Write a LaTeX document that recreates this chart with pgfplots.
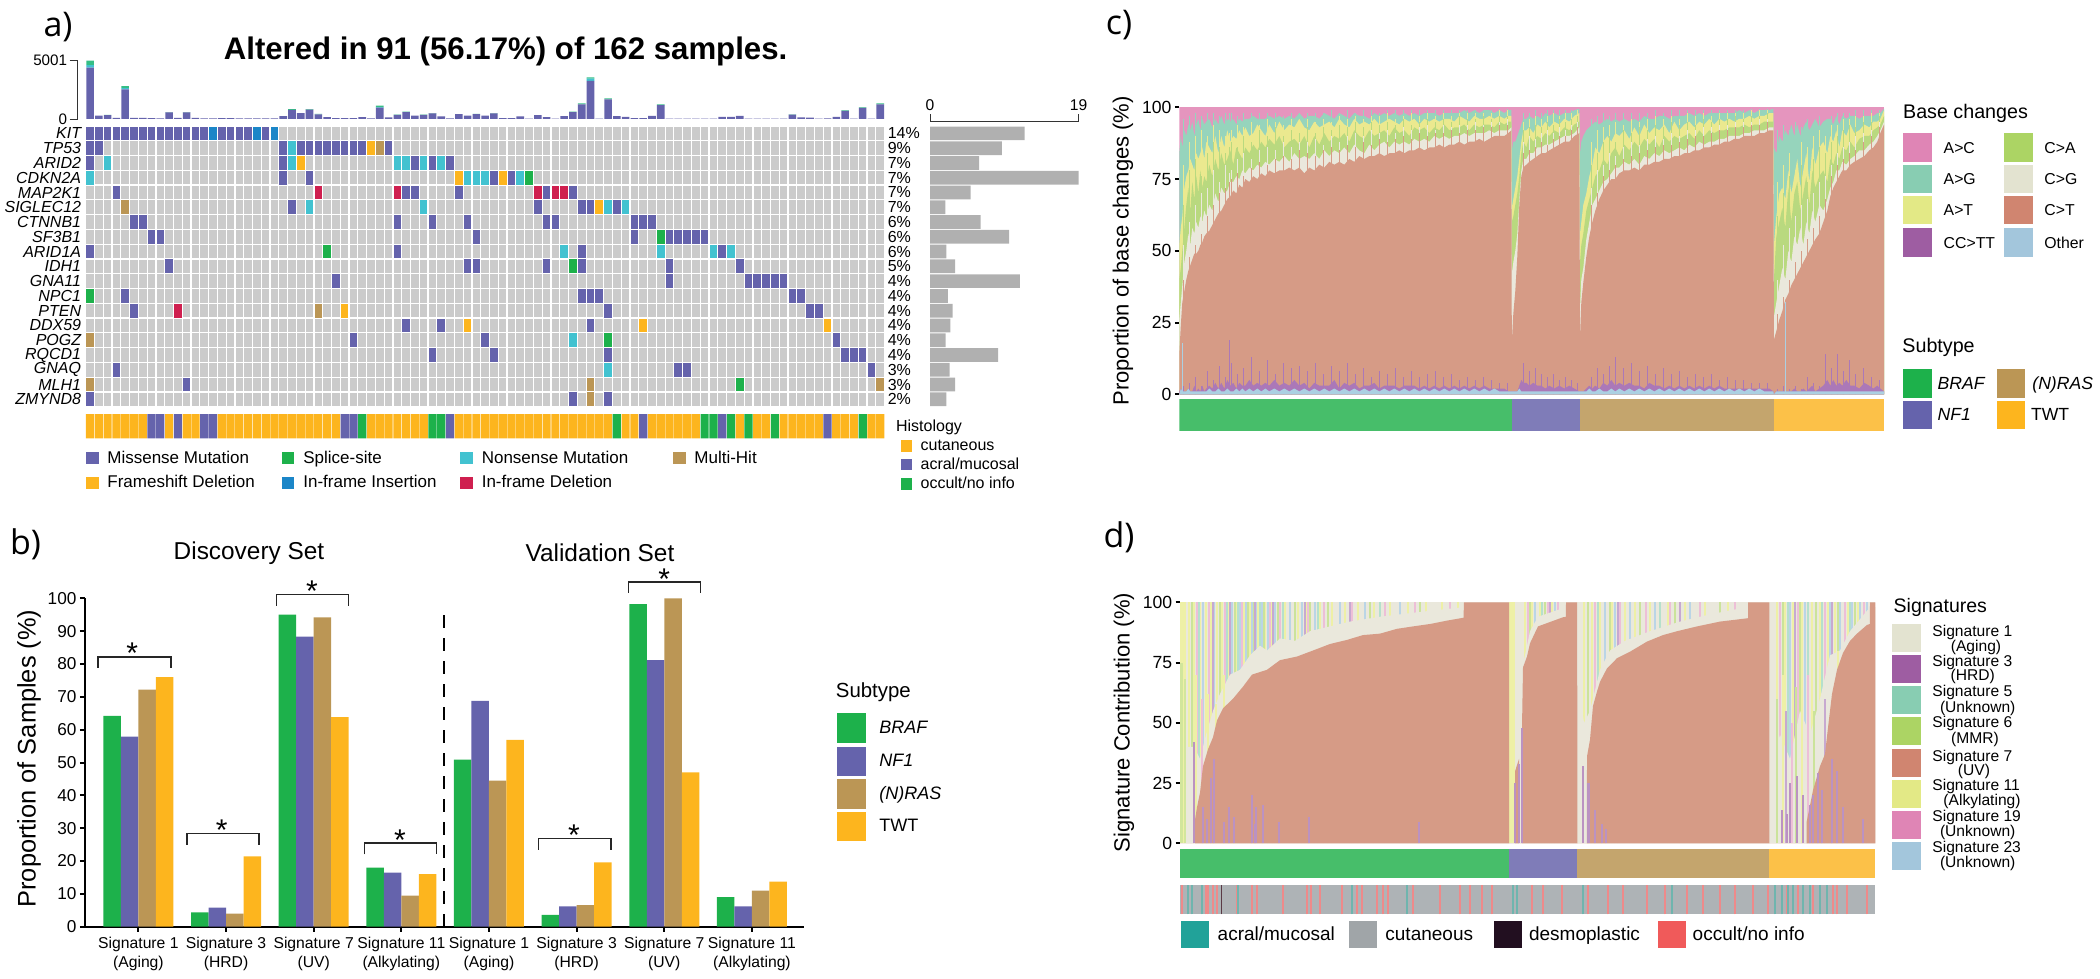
\documentclass[border=0pt]{standalone}
\usepackage{fontspec}
\setmainfont{Liberation Sans}
\newfontfamily\panelfont{Open Sans}
\usepackage{pgfplots}
\usepackage{pgfplotstable}
\pgfplotsset{compat=1.18}
\newcommand\fs[1]{\fontsize{#1}{#1}\selectfont}
\pgfplotsset{pos/.style 2 args={at={(#1*0.5pt,-#2*0.5pt)},anchor=south west,scale only axis}}

\definecolor{mis}{HTML}{6563AC}
\definecolor{spl}{HTML}{1DB14B}
\definecolor{non}{HTML}{42C2D0}
\definecolor{mul}{HTML}{BB9655}
\definecolor{fra}{HTML}{FDB51E}
\definecolor{ins}{HTML}{1B86C8}
\definecolor{del}{HTML}{CF1F4F}
\definecolor{cellgray}{HTML}{CBCBCB}
\definecolor{top}{HTML}{35BE85}
% panel c layers (lighter in the plot than in the legend)
\definecolor{pAC}{HTML}{E595BE}
\definecolor{pAG}{HTML}{96D4BC}
\definecolor{pAT}{HTML}{EBE98F}
\definecolor{pCC}{HTML}{AB78B8}
\definecolor{pCA}{HTML}{B9D97F}
\definecolor{pCG}{HTML}{EAE8DC}
\definecolor{pCT}{HTML}{D69B86}
\definecolor{pOT}{HTML}{ABD0E2}
% legend keys
\definecolor{kAC}{HTML}{DF85B5}
\definecolor{kAG}{HTML}{88CDB2}
\definecolor{kAT}{HTML}{E3E986}
\definecolor{kCC}{HTML}{9E5DA2}
\definecolor{kCA}{HTML}{ACD464}
\definecolor{kCG}{HTML}{E3E3D0}
\definecolor{kCT}{HTML}{D08570}
\definecolor{kOT}{HTML}{A3C6DC}
% subtype strips
\definecolor{sBR}{HTML}{47BE6A}
\definecolor{sNF}{HTML}{7F7CB8}
\definecolor{sRA}{HTML}{C4A56D}
\definecolor{sTW}{HTML}{FCC148}
% panel d stripes
\definecolor{dYE}{HTML}{EEF0A6}
\definecolor{dPI}{HTML}{EDBFD7}
\definecolor{dBL}{HTML}{BAD5E6}
\definecolor{dGR}{HTML}{CBE39A}
\definecolor{dTE}{HTML}{B5E0CC}
\definecolor{dLI}{HTML}{C7A9D0}
\definecolor{hGR}{HTML}{AEB3B6}
\definecolor{hRE}{HTML}{EE8A8A}
\definecolor{hTE}{HTML}{6FB5AE}
\definecolor{hDK}{HTML}{5A3A45}
\definecolor{lTE}{HTML}{21A299}
\definecolor{lGR}{HTML}{A0A5A8}
\definecolor{lDK}{HTML}{220F20}
\definecolor{lRE}{HTML}{F05A5A}

\pgfdeclareplotmark{cell}{\pgfpathrectangle{\pgfqpoint{-1.9pt}{-3.43pt}}{\pgfqpoint{3.8pt}{6.86pt}}\pgfusepathqfill}

% top bar of panel a: column, missense, nonsense, splice
\pgfplotstableread{
x m n s
0 4400 230 371
1 300 0 0
2 330 0 30
3 100 0 0
4 2540 100 190
5 100 0 0
6 100 0 0
7 80 0 0
8 60 0 0
9 560 0 40
10 90 0 0
11 560 0 40
12 90 0 0
13 50 0 0
14 60 0 0
15 70 0 0
16 70 0 0
17 50 0 0
18 50 0 0
19 60 0 0
20 50 0 0
21 50 0 0
22 240 0 0
23 790 0 60
24 510 0 0
25 800 0 50
26 400 0 30
27 150 0 0
28 70 0 0
29 70 0 0
30 70 0 0
31 150 0 0
32 50 0 0
33 970 50 130
34 140 0 0
35 350 0 20
36 580 0 50
37 280 0 0
38 350 0 20
39 490 0 20
40 220 0 0
41 50 0 0
42 420 0 0
43 280 0 0
44 410 0 20
45 290 0 0
46 490 0 20
47 80 0 0
48 80 0 0
49 230 0 0
50 40 0 0
51 330 0 0
52 150 0 0
53 30 0 0
54 240 0 0
55 600 0 30
56 1260 0 80
57 3280 180 110
58 40 0 0
59 1680 0 90
60 240 0 0
61 190 0 0
62 80 0 0
63 80 0 0
64 270 0 0
65 1190 0 70
66 30 0 0
67 30 0 0
68 40 0 0
69 40 0 0
70 40 0 0
71 40 0 0
72 190 0 0
73 190 0 0
74 260 0 0
75 40 0 0
76 40 0 0
77 40 0 0
78 40 0 0
79 40 0 0
80 370 0 20
81 140 0 0
82 110 0 0
83 30 0 0
84 50 0 0
85 190 0 0
86 700 0 40
87 30 0 0
88 950 0 50
89 30 0 0
90 1260 0 80
}\dataTop

% panel b: group, BRAF, NF1, (N)RAS, TWT
\pgfplotstableread{
x br nf ra tw
0 64.2 57.9 72.2 76.0
1 4.4 5.8 4.0 21.4
2 95.0 88.3 94.2 63.8
3 18.0 16.5 9.5 16.0
4 50.9 68.8 44.5 56.9
5 3.6 6.2 6.6 19.6
6 98.2 81.2 100 47.0
7 9.0 6.2 11.0 13.7
}\dataB

% panel c: upper edge of each layer
\pgfplotstableread{
x ot cc ct cg ca at ag
0 0 1 14 26 40 52 84
1.5 2 2 24 32 44 58 90
3 1 1 32 38 50 62 86
5 1 1 36 46 58 72 92
7 1 1 40 50 66 76 90
9 2 2 43 56 72 78 94
11 1 1 45 52 64 82 92
13 1 1 47 58 74 80 95
15 1 3 49 56 68 78 90
17 1 1 49 60 76 84 94
19 1 2 50 58 70 82 96
21 1 1 52 62 78 84 92
23 1 3 53 60 72 86 96
25 1 1 55 64 76 82 94
27 1 2 56 62 74 88 95
30 2 3 57 66 80 86 96
33 1 2 59 64 76 84 93
36 1 4 61 70 82 90 96
39 2 2 63 67 78 84 94
42 1 4 64 72 84 90 97
45 1 2 66 70 80 86 94
48 2 5 68 71 82 92 96
51 1 3 69 74 85 88 95
54 1 4 71 74 80 90 96
57 2 2 70 76 86 89 94
60 1 4 73 75 84 92 96
63 2 3 72 78 82 90 95
66 1 3 75 77 86 93 96
70 2 5 74 79 84 90 96
74 1 3 76 78 87 91 97
78 2 4 75 80 85 94 96
82 1 3 77 79 88 92 96
86 2 4 76 81 86 90 96
90 1 3 78 80 89 94 97
95 2 5 77 82 87 91 96
100 1 3 78 81 90 95 97
105 2 4 78 83 86 92 96
110 1 3 79 81 88 94 97
115 2 5 78 84 89 93 96
120 1 3 79 82 87 96 98
125 2 4 77 83 90 93 96
130 1 2 79 82 86 92 97
135 2 4 78 84 90 95 97
140 1 3 80 82 87 93 96
145 2 3 79 85 91 94 98
150 1 3 81 83 88 95 97
155 2 5 80 85 90 93 96
160 1 2 81 84 89 96 98
165 2 4 80 86 91 94 97
170 1 3 82 84 88 93 96
175 2 4 81 87 92 96 98
180 1 2 83 85 90 94 97
185 2 3 82 84 89 95 97
190 1 3 83 87 92 94 96
195 2 4 83 85 90 96 98
200 1 2 84 87 91 94 97
205 2 3 83 88 92 95 98
210 1 3 84 86 90 96 97
215 2 3 84 88 93 95 98
220 1 2 85 87 91 94 97
225 2 3 84 88 92 96 98
230 1 3 85 87 90 95 97
235 2 3 85 89 93 96 98
240 1 2 86 88 92 94 97
245 2 3 85 89 93 96 98
250 1 2 86 88 91 95 98
255 2 3 86 90 93 96 98
260 1 2 87 89 92 95 97
265 2 3 86 90 94 96 98
270 1 2 87 89 92 96 98
275 2 3 87 90 93 95 98
280 1 2 88 90 93 97 98
285 2 3 87 91 94 96 99
290 1 2 88 90 92 95 98
295 2 3 88 91 94 97 99
300 1 2 89 91 93 96 98
305 2 3 88 91 94 96 99
310 1 2 89 92 94 97 99
315 2 2 90 91 93 96 98
320 1 2 90 92 95 97 99
325 1 2 90 92 94 96 98
329 1 1 91 92 95 97 99
332 1 1 92 93 95 97 99
332.5 1 1 18 42 60 65 85
334 1 1 28 46 62 68 88
336 1 1 36 50 66 72 88
338 1 1 48 56 70 76 90
340 2 3 66 68 76 82 92
342 1 5 76 78 84 88 94
344 1 4 79 82 88 92 96
347 1 4 80 82 86 92 96
350 1 3 81 84 90 93 97
354 1 4 82 84 88 91 96
358 1 3 83 86 90 94 97
362 1 3 84 86 89 93 96
366 1 2 84 87 91 95 98
370 1 3 85 87 90 93 97
375 1 2 86 88 92 95 98
380 1 3 87 89 91 94 97
385 1 2 88 90 93 96 98
390 1 3 88 90 92 95 98
395 1 2 90 91 94 97 99
400 1 1 91 93 95 98 99.5
400.7 1 1 20 30 46 56 84
402 1 1 32 40 52 60 88
404 1 1 39 44 56 66 90
407 1 2 48 54 64 70 92
410 2 3 55 60 68 76 93
413 1 2 60 66 72 80 94
416 1 3 64 68 76 86 95
420 2 2 68 71 78 84 94
424 1 4 71 74 82 88 95
428 1 3 73 75 80 90 96
432 2 5 75 77 84 88 95
436 1 3 75 79 86 91 96
440 2 4 77 79 83 90 95
445 1 3 78 81 87 92 96
450 2 4 78 80 85 89 95
455 1 3 79 82 88 93 96
460 2 3 78 80 86 90 95
465 1 2 80 83 89 94 97
470 2 4 80 82 87 91 96
475 1 3 81 84 89 93 96
480 2 3 81 83 86 92 97
485 1 2 82 85 90 94 97
490 2 3 82 84 88 91 96
495 1 2 83 85 90 95 97
500 2 3 83 86 89 92 97
505 1 2 84 85 90 94 97
510 2 3 84 87 91 95 98
515 1 2 85 86 89 93 97
520 2 3 85 88 92 95 98
525 1 2 86 87 90 94 97
530 2 3 86 88 92 96 98
535 1 2 87 88 91 94 98
540 2 3 87 89 92 96 98
545 1 2 88 89 92 95 98
550 2 2 88 90 93 96 98
555 1 2 89 90 93 95 98
560 2 2 89 90 93 96 99
565 1 2 90 91 94 96 98
570 2 2 90 91 93 97 99
575 1 2 90 92 94 96 98
580 2 2 91 92 94 97 99
585 1 2 91 92 95 97 99
590 1 2 92 93 95 98 99
594 1 1 92 93 95 98 99.5
594.6 0 0 19 27 40 52 86
597 1 1 22 32 55 62 84
600 1 1 26 38 60 70 90
603 1 1 29 44 65 72 88
606 1 1 33 40 58 68 92
609 1 1 35 50 72 78 90
612 1 1 38 46 60 70 94
615 1 2 40 55 70 76 90
618 1 1 42 52 74 82 94
621 1 1 44 58 64 72 90
624 1 2 46 52 70 78 93
627 1 1 48 60 76 84 95
630 1 2 50 56 66 74 92
633 1 3 52 64 78 86 94
636 1 1 54 60 72 80 96
640 1 2 56 66 76 86 93
644 1 3 60 64 78 88 95
648 1 5 64 68 74 84 96
651 1 3 69 72 82 90 96
654 1 5 72 74 80 88 94
657 1 3 74 78 84 92 97
660 1 4 76 78 82 86 94
663 1 3 78 81 86 92 97
667 1 5 78 80 85 90 96
671 1 3 80 82 88 94 97
675 1 3 81 83 86 91 97
680 1 2 82 85 89 92 96
685 1 4 83 85 90 94 97
690 1 3 85 87 90 93 97
694 1 2 86 88 92 95 97
698 1 3 88 90 93 95 98
701 1 2 91 92 94 96 98
704.7 1 1 94 95 97 99 99.5
}\dataC

% panel c: single samples that stand out above the layers
\pgfplotstableread{
x ct cg ca at ag cc
4 40 52 66 80 96 3
10 48 60 78 88 97 4
16 52 66 82 90 98 6
22 56 70 76 92 97 3
28 62 72 84 90 98 8
34 66 78 88 94 98 5
40 70 74 86 92 97 10
46 72 80 84 90 98 6
50 74 77 86 91 98 19
52 75 78 88 92 98 11
58 77 82 86 94 97 7
64 76 84 90 93 98 9
72 79 82 88 95 98 13
80 81 85 92 94 98 8
88 80 86 90 96 98 12
96 82 85 93 95 98 7
104 83 88 90 94 97 11
112 82 86 92 96 98 9
120 85 88 91 94 98 10
128 84 88 93 96 98 8
136 83 89 91 95 98 11
144 85 87 93 96 98 7
152 86 90 92 95 99 10
160 85 88 94 97 98 8
168 87 90 93 96 99 11
176 86 91 95 97 98 7
184 88 90 93 96 99 9
192 87 92 95 97 99 6
200 89 91 94 97 98 8
208 88 92 95 98 99 7
216 89 91 94 96 99 9
224 90 93 96 97 99 6
232 89 92 94 98 99 8
240 91 93 95 97 99 6
248 90 94 96 98 99 7
256 91 92 95 97 99 8
264 91 94 96 98 99 6
272 92 93 95 97 99 7
280 91 94 97 98 99 5
288 92 94 96 98 99 6
296 92 95 96 98 99 5
304 93 94 97 98 99 6
312 93 95 96 98 99 5
320 94 95 97 99 99.5 4
328 94 96 97 99 99.5 4
344 84 88 92 95 98 11
350 85 90 93 96 98 8
356 86 89 94 97 99 9
362 88 91 93 96 98 7
368 87 92 95 97 99 6
374 89 91 94 98 99 7
380 90 93 96 97 99 5
386 90 92 95 98 99 6
392 92 94 96 98 99 5
398 93 95 97 99 99.5 4
412 66 72 80 88 96 6
418 70 78 84 92 97 9
424 76 80 88 93 98 7
430 78 84 90 94 97 10
436 80 83 88 95 98 13
444 82 86 92 94 98 9
452 83 88 91 96 98 11
460 84 87 93 95 98 8
468 85 89 92 96 98 10
476 86 90 94 97 99 7
484 87 89 93 96 98 9
492 87 91 95 97 99 7
500 88 90 94 96 99 8
508 89 92 95 98 99 6
516 90 92 94 97 99 7
524 90 93 96 98 99 6
532 91 93 95 97 99 7
540 92 94 96 98 99 5
548 92 94 96 98 99 6
556 93 95 97 98 99 5
564 93 95 96 98 99 5
572 94 95 97 99 99.5 4
580 94 96 97 99 99.5 4
588 95 96 98 99 99.5 4
598 28 40 62 74 92 2
604 34 52 70 80 94 3
610 40 58 76 84 92 2
616 46 62 68 78 95 3
622 50 66 80 88 93 2
628 54 68 74 86 96 6
634 58 70 82 90 94 4
640 62 74 86 92 97 3
646 68 76 84 90 95 14
652 76 80 88 94 97 9
658 80 84 90 94 98 14
664 82 86 92 96 98 8
670 84 88 94 96 98 12
676 85 90 93 97 99 7
684 88 91 95 97 99 9
692 90 92 95 98 99 6
700 93 95 97 98 99 5
}\dataS

% panel d: edge of the signature 7 area
\pgfplotstableread{
x t
0 0
15 0
15.1 10
17 15
20 21
23 32
28 39
33 44
37 51
43 56
53 60
63 65
72 70
87 72
100 76
117 77.5
133 80
150 82.7
167 84.4
183 86.4
200 87
217 89
233 90
250 91
267 92.4
283.5 93.6
284 100
329 100
329.1 0
335 0
335.1 30
339 35
339.1 0
341.9 0
342 48
343 73
347 77.5
350 83
358 90
383 93.8
385.9 94
386 100
397.2 100
397.3 0
406.9 0
407 36
410 43
413 57
417 63
420 67
427 72.6
437 76.8
450 79.5
467 83.7
483 86.4
497 88
517 90
540 92
568 93.4
568.1 100
589.3 100
589.4 0
626.6 0
626.7 9
633 22
640 32
645 37
648 48
652 62
657 72
663 79
670 84
677 87
687 90.6
689.9 91
690 100
695.3 100
}\dataD

% panel d: where the coloured stripes stop above signature 1
\pgfplotstableread{
x f
0 55
8 40
14 40
20 35
26 45
33 55
40 62
50 70
60 72
70 78
80 82
87 80
100 85
115 84
130 88
150 90
170 92
200 94
240 96
284 98
330 70
340 70
345 78
350 88
358 94
386 98
397 70
404 50
410 55
420 72
430 80
445 84
470 88
500 92
530 95
567 98
589.5 30
600 45
610 35
620 55
630 45
640 60
650 78
660 80
670 88
680 93
690 98
695.3 98
}\dataF

\begin{document}
\begin{tikzpicture}[
  lab/.style={anchor=mid west,inner sep=0pt},
  px/.style={x=0.5pt,y=-0.5pt},
  ]
\path[use as bounding box] (0pt,0pt) rectangle (1050pt,-489.5pt);

%%% panel a %%%
\begin{scope}[px]
\node[font=\panelfont\fs{17}] at (58,27) {a)};
\node[font=\bfseries\fs{15.6}] at (505.6,51.7) {Altered in 91 (56.17\%) of 162 samples.};
\end{scope}

\begin{axis}[pos={77.5}{119},width=403.55pt,height=29.15pt,
  ybar stacked,bar width=3.8pt,xmin=-1.43,xmax=90.5,ymin=0,ymax=5001,
  axis x line=none,axis y line*=left,ytick={0,5001},
  /pgf/number format/assume math mode=true,/pgf/number format/1000 sep={},
  tick align=outside,major tick length=4pt,tick style={black!80,line width=0.4pt},
  y axis line style={black!80,line width=0.5pt},
  yticklabel style={font=\fs{7.6},inner sep=1pt}]
\addplot[fill=mis,draw=none] table[x=x,y=m]{\dataTop};
\addplot[fill=non,draw=none] table[x=x,y=n]{\dataTop};
\addplot[fill=top,draw=none] table[x=x,y=s]{\dataTop};
\end{axis}

\begin{axis}[pos={85.7}{406.7},width=399.45pt,height=140.35pt,
  xmin=-0.5,xmax=90.5,ymin=-0.5,ymax=18.5,y dir=reverse,clip=false,
  axis line style={draw=none},axis background/.style={fill=cellgray},
  xtick={0},xticklabels={},minor xtick={-0.5,0.5,...,90.5},minor ytick={-0.5,0.5,...,18.5},
  grid=minor,minor grid style={white,line width=0.6pt},
  major tick length=0pt,minor tick length=0pt,
  ytick={0,...,18},
  yticklabels={KIT,TP53,ARID2,CDKN2A,MAP2K1,SIGLEC12,CTNNB1,SF3B1,ARID1A,IDH1,GNA11,NPC1,PTEN,DDX59,POGZ,RQCD1,GNAQ,MLH1,ZMYND8},
  yticklabel style={font=\itshape\fs{8},inner sep=0pt,xshift=-2.1pt}]
\addplot[only marks,mark=cell,color=mis] coordinates {
 (0,0)(1,0)(2,0)(3,0)(4,0)(5,0)(6,0)(7,0)(8,0)(9,0)(10,0)(11,0)(12,0)(13,0)(15,0)(16,0)(17,0)(18,0)(20,0)
 (0,1)(1,1)(22,1)(24,1)(25,1)(26,1)(27,1)(28,1)(29,1)(30,1)(31,1)(34,1)
 (0,2)(22,2)(37,2)(39,2)(41,2)
 (22,3)(25,3)(46,3)(48,3)
 (3,4)(36,4)(37,4)(42,4)(52,4)(55,4)
 (23,5)(51,5)(56,5)(57,5)(60,5)
 (5,6)(6,6)(35,6)(39,6)(43,6)(52,6)(53,6)(62,6)(63,6)(64,6)
 (7,7)(8,7)(44,7)(62,7)(66,7)(67,7)(68,7)(69,7)(70,7)
 (0,8)(35,8)(56,8)(72,8)
 (9,9)(43,9)(44,9)(52,9)(56,9)(66,9)(74,9)
 (28,10)(66,10)(75,10)(76,10)(77,10)(78,10)(79,10)
 (4,11)(56,11)(57,11)(58,11)(80,11)(81,11)
 (5,12)(59,12)(82,12)(83,12)
 (36,13)(40,13)(57,13)
 (30,14)(45,14)(85,14)
 (39,15)(46,15)(59,15)(86,15)(87,15)(88,15)
 (3,16)(67,16)(68,16)(89,16)
 (11,17)
 (0,18)(55,18)(59,18)};
\addplot[only marks,mark=cell,color=spl] coordinates {(27,8)(50,3)(65,7)(55,9)(0,11)(59,14)(74,17)};
\addplot[only marks,mark=cell,color=non] coordinates {(23,1)(2,2)(23,2)(35,2)(36,2)(38,2)(40,2)(0,3)(43,3)(44,3)(45,3)(49,3)(25,5)(38,5)(59,5)(61,5)(54,8)(65,8)(71,8)(73,8)(55,14)(59,16)};
\addplot[only marks,mark=cell,color=fra] coordinates {(32,1)(24,2)(42,3)(47,3)(58,5)(29,12)(43,13)(63,13)(84,13)};
\addplot[only marks,mark=cell,color=mul] coordinates {(33,1)(4,5)(26,12)(0,14)(0,17)(57,17)(90,17)(57,18)};
\addplot[only marks,mark=cell,color=ins] coordinates {(14,0)(19,0)(21,0)};
\addplot[only marks,mark=cell,color=del] coordinates {(26,4)(35,4)(51,4)(53,4)(54,4)(10,12)};
\end{axis}

% percentages to the right of the grid
\begin{axis}[pos={85.7}{406.7},width=399.45pt,height=140.35pt,
  xmin=-0.5,xmax=90.5,ymin=-0.5,ymax=18.5,y dir=reverse,
  axis x line=none,axis y line*=right,y axis line style={draw=none},major tick length=0pt,
  ytick={0,...,18},
  yticklabels={14\%,9\%,7\%,7\%,7\%,7\%,6\%,6\%,6\%,5\%,4\%,4\%,4\%,4\%,4\%,4\%,3\%,3\%,2\%},
  yticklabel style={font=\fs{8},inner sep=0pt,xshift=1.4pt,anchor=west}]
\addplot[draw=none,forget plot] coordinates {(0,0)};
\end{axis}

% altered samples per gene
\begin{axis}[pos={930}{406.7},width=74.3pt,height=142.5pt,
  xbar,bar width=6.86pt,bar shift=0pt,xmin=0,xmax=19,ymin=-0.5,ymax=18.79,
  axis y line=none,axis x line*=top,xtick={0,19},
  /pgf/number format/assume math mode=true,
  tick align=outside,major tick length=3.8pt,tick style={black!80,line width=0.5pt},
  x axis line style={black!80,line width=0.6pt},
  xticklabel style={font=\fs{7.8},inner sep=1.5pt}]
\addplot[fill=black!31,draw=none] coordinates {
 (12.1,18)(9.2,17)(6.27,16)(19,15)(5.2,14)(1.96,13)(6.46,12)(10.1,11)(2.1,10)(3.2,9)(11.5,8)(2.3,7)(2.9,6)(2.6,5)(2,4)(8.7,3)(2.5,2)(3.2,1)(2.1,0)};
\end{axis}

% histology strip
\begin{axis}[pos={85.7}{438.3},width=399.45pt,height=12.15pt,
  xmin=-0.5,xmax=90.5,ymin=0,ymax=1,hide axis]
\addplot[ybar,bar width=4.1pt,bar shift=0pt,fill=fra,draw=none] coordinates {
 (0,1)(1,1)(2,1)(3,1)(4,1)(5,1)(6,1)(9,1)(11,1)(12,1)(15,1)(16,1)(17,1)(18,1)(19,1)(20,1)(21,1)(22,1)(23,1)(24,1)(25,1)(26,1)(27,1)(28,1)
 (32,1)(33,1)(34,1)(35,1)(36,1)(37,1)(38,1)(42,1)(43,1)(44,1)(45,1)(46,1)(47,1)(48,1)(49,1)(50,1)(51,1)(52,1)(53,1)(54,1)(55,1)(56,1)(57,1)(58,1)(59,1)
 (61,1)(62,1)(64,1)(65,1)(66,1)(67,1)(68,1)(69,1)(74,1)(76,1)(77,1)(79,1)(80,1)(81,1)(82,1)(83,1)(85,1)(86,1)(87,1)(89,1)(90,1)};
\addplot[ybar,bar width=4.1pt,bar shift=0pt,fill=mis,draw=none] coordinates {(7,1)(8,1)(10,1)(13,1)(14,1)(29,1)(30,1)(41,1)(63,1)(72,1)(84,1)};
\addplot[ybar,bar width=4.1pt,bar shift=0pt,fill=spl,draw=none] coordinates {(31,1)(39,1)(40,1)(60,1)(70,1)(71,1)(73,1)(75,1)(78,1)(88,1)};
\end{axis}

% legends of panel a
\begin{scope}[px]
\fill[mis] (86.4,452) rectangle (98.6,464);   \node[lab,font=\fs{8.5}] at (107,458) {Missense Mutation};
\fill[fra] (86.4,476.5) rectangle (98.6,488.5); \node[lab,font=\fs{8.5}] at (107,482.7) {Frameshift Deletion};
\fill[spl] (282,452) rectangle (294,464);     \node[lab,font=\fs{8.5}] at (303,458) {Splice-site};
\fill[ins] (282,476.5) rectangle (294,488.5); \node[lab,font=\fs{8.5}] at (303,482.7) {In-frame Insertion};
\fill[non] (460,452) rectangle (472.5,464);   \node[lab,font=\fs{8.5}] at (481.4,458) {Nonsense Mutation};
\fill[del] (460,476.5) rectangle (472.5,488.5); \node[lab,font=\fs{8.5}] at (481.4,482.7) {In-frame Deletion};
\fill[mul] (673,452) rectangle (685.6,464);   \node[lab,font=\fs{8.5}] at (694,458) {Multi-Hit};
\node[lab,font=\fs{8}] at (895.7,426) {Histology};
\fill[fra] (900.7,440.3) rectangle (912.2,451.7); \node[lab,font=\fs{8}] at (920.2,445) {cutaneous};
\fill[mis] (900.7,458.7) rectangle (912.2,470);   \node[lab,font=\fs{8}] at (920.2,464.3) {acral/mucosal};
\fill[spl] (900.7,478.3) rectangle (912.2,489.7); \node[lab,font=\fs{8}] at (920.2,483.3) {occult/no info};

%%% panel b %%%
\node[font=\panelfont\fs{17}] at (25.5,544) {b)};
\node[font=\fs{12.2}] at (249,553) {Discovery Set};
\node[font=\fs{12.2}] at (600,553) {Validation Set};
\end{scope}

\begin{axis}[pos={84.8}{926.7},width=359.4pt,height=164.2pt,
  xmin=-0.6115,xmax=7.59,ymin=0,ymax=100,clip=false,
  axis x line*=bottom,axis y line*=left,
  x axis line style={black,line width=1.2pt},y axis line style={black,line width=0.8pt},
  xtick={0,...,7},ytick={0,10,...,100},
  xticklabels={{Signature 1\\(Aging)},{Signature 3\\(HRD)},{Signature 7\\(UV)},{Signature 11\\(Alkylating)},{Signature 1\\(Aging)},{Signature 3\\(HRD)},{Signature 7\\(UV)},{Signature 11\\(Alkylating)}},
  /pgf/number format/assume math mode=true,
  tick align=outside,major tick length=2.5pt,tick style={black,line width=1pt},
  xticklabel style={font=\fontsize{7.85}{9.5}\selectfont,align=center,inner sep=1.5pt,yshift=-1pt},
  yticklabel style={font=\fs{8.6},inner sep=1.5pt},
  ylabel={Proportion of Samples (\%)},
  ylabel style={font=\fs{12.7},at={(axis description cs:-0.0776,0.512)},anchor=center}]
\addplot[ybar,bar width=8.75pt,bar shift=-13.125pt,fill=spl,draw=none] table[x=x,y=br]{\dataB};
\addplot[ybar,bar width=8.75pt,bar shift=-4.375pt,fill=mis,draw=none] table[x=x,y=nf]{\dataB};
\addplot[ybar,bar width=8.75pt,bar shift=4.375pt,fill=mul,draw=none] table[x=x,y=ra]{\dataB};
\addplot[ybar,bar width=8.75pt,bar shift=13.125pt,fill=fra,draw=none] table[x=x,y=tw]{\dataB};
\addplot[black,line width=1pt,dash pattern=on 6.5pt off 5pt] coordinates {(3.49,0)(3.49,96.4)};
\addplot[black!85,line width=0.7pt] coordinates {(-0.459,78.9)(-0.459,82.1)(0.371,82.1)(0.371,78.9)};
\addplot[black!85,line width=0.7pt] coordinates {(0.556,24.9)(0.556,28.3)(1.378,28.3)(1.378,24.9)};
\addplot[black!85,line width=0.7pt] coordinates {(1.578,97.7)(1.578,101.1)(2.4,101.1)(2.4,97.7)};
\addplot[black!85,line width=0.7pt] coordinates {(2.578,22)(2.578,25.5)(3.4,25.5)(3.4,22)};
\addplot[black!85,line width=0.7pt] coordinates {(4.563,23.4)(4.563,26.8)(5.393,26.8)(5.393,23.4)};
\addplot[black!85,line width=0.7pt] coordinates {(5.592,101.7)(5.592,105)(6.415,105)(6.415,101.7)};
\node[anchor=base,inner sep=0pt,font=\fs{15}] at (axis cs:-0.07,80.1) {*};
\node[anchor=base,inner sep=0pt,font=\fs{15}] at (axis cs:0.95,26.3) {*};
\node[anchor=base,inner sep=0pt,font=\fs{15}] at (axis cs:1.98,98.9) {*};
\node[anchor=base,inner sep=0pt,font=\fs{15}] at (axis cs:2.985,23.2) {*};
\node[anchor=base,inner sep=0pt,font=\fs{15}] at (axis cs:4.97,24.7) {*};
\node[anchor=base,inner sep=0pt,font=\fs{15}] at (axis cs:6,102.6) {*};
\end{axis}

\begin{scope}[px]
\node[lab,font=\fs{10.2}] at (835.5,692) {Subtype};
\fill[spl] (836.7,713) rectangle (866,743);     \node[lab,font=\itshape\fs{9}] at (879,728) {BRAF};
\fill[mis] (836.7,746.7) rectangle (866,776);   \node[lab,font=\itshape\fs{9}] at (879,761.7) {NF1};
\fill[mul] (836.7,779) rectangle (866,808.7);   \node[lab,font=\itshape\fs{9}] at (879,794) {(N)RAS};
\fill[fra] (836.7,812) rectangle (866,841);     \node[lab,font=\fs{9}] at (879,826.7) {TWT};

%%% panel c %%%
\node[font=\panelfont\fs{17}] at (1119,25) {c)};
\end{scope}
\begin{axis}[pos={1179.3}{394.3},width=352.35pt,height=143.5pt,
  xmin=0,xmax=704.7,ymin=0,ymax=100,
  axis x line=none,axis y line*=left,y axis line style={draw=none},
  ytick={0,25,...,100},
  /pgf/number format/assume math mode=true,
  tick align=outside,major tick length=2.2pt,tick style={black,line width=1pt},
  yticklabel style={font=\fs{8.8},inner sep=1.5pt},
  ylabel={Proportion of base changes (\%)},
  ylabel style={font=\fs{11},at={(axis description cs:-0.0799,0.5)},anchor=center}]
\addplot[fill=pAC,draw=none] coordinates {(0,100)(704.7,100)} \closedcycle;
\addplot[fill=pAG,draw=none] table[x=x,y=ag]{\dataC} \closedcycle;
\addplot[ycomb,color=pAG,line width=0.6pt] table[x=x,y=ag]{\dataS};
\addplot[fill=pAT,draw=none] table[x=x,y=at]{\dataC} \closedcycle;
\addplot[ycomb,color=pAT,line width=0.6pt] table[x=x,y=at]{\dataS};
\addplot[fill=pCA,draw=none] table[x=x,y=ca]{\dataC} \closedcycle;
\addplot[ycomb,color=pCA,line width=0.6pt] table[x=x,y=ca]{\dataS};
\addplot[fill=pCG,draw=none] table[x=x,y=cg]{\dataC} \closedcycle;
\addplot[ycomb,color=pCG,line width=0.6pt] table[x=x,y=cg]{\dataS};
\addplot[fill=pCT,draw=none] table[x=x,y=ct]{\dataC} \closedcycle;
\addplot[ycomb,color=pCT,line width=0.6pt] table[x=x,y=ct]{\dataS};
\addplot[fill=pCC,draw=none] table[x=x,y=cc]{\dataC} \closedcycle;
\addplot[ycomb,color=pCC,line width=0.6pt] table[x=x,y=cc]{\dataS};
\addplot[fill=pOT,draw=none] table[x=x,y=ot]{\dataC} \closedcycle;
\addplot[ycomb,color=pOT,line width=0.5pt] coordinates {(2.7,18)(606.4,32)};
\end{axis}

\begin{axis}[pos={1179.3}{431},width=352.35pt,height=16pt,
  xmin=0,xmax=704.7,ymin=0,ymax=1,hide axis]
\addplot[fill=sBR,draw=none] coordinates {(0,1)(332.4,1)} \closedcycle;
\addplot[fill=sNF,draw=none] coordinates {(332.4,1)(400.7,1)} \closedcycle;
\addplot[fill=sRA,draw=none] coordinates {(400.7,1)(595,1)} \closedcycle;
\addplot[fill=sTW,draw=none] coordinates {(595,1)(704.7,1)} \closedcycle;
\end{axis}

\begin{scope}[px]
\node[lab,font=\fs{9.85}] at (1902.7,113) {Base changes};
\fill[kAC] (1903.3,133.3) rectangle (1932,162);   \node[lab,font=\fs{7.9}] at (1943.3,148) {A>C};
\fill[kAG] (1903.3,164.7) rectangle (1932,193.3); \node[lab,font=\fs{7.9}] at (1943.3,179) {A>G};
\fill[kAT] (1903.3,195.7) rectangle (1932,224.3); \node[lab,font=\fs{7.9}] at (1943.3,210) {A>T};
\fill[kCC] (1903.3,228.3) rectangle (1932,257);   \node[lab,font=\fs{7.9}] at (1943.3,243) {CC>TT};
\fill[kCA] (2004,133.3) rectangle (2032.7,162);   \node[lab,font=\fs{7.9}] at (2044,148) {C>A};
\fill[kCG] (2004,164.7) rectangle (2032.7,193.3); \node[lab,font=\fs{7.9}] at (2044,179) {C>G};
\fill[kCT] (2004,195.7) rectangle (2032.7,224.3); \node[lab,font=\fs{7.9}] at (2044,210) {C>T};
\fill[kOT] (2004,228.3) rectangle (2032.7,257);   \node[lab,font=\fs{7.9}] at (2044,243) {Other};
\node[lab,font=\fs{9.85}] at (1902,347) {Subtype};
\fill[spl] (1903.3,369.3) rectangle (1932,398.3);   \node[lab,font=\itshape\fs{8.8}] at (1937.3,384) {BRAF};
\fill[mis] (1903.3,400.7) rectangle (1932,429.3);   \node[lab,font=\itshape\fs{8.8}] at (1937.3,415) {NF1};
\fill[mul] (1996.7,369.3) rectangle (2025.3,398.3); \node[lab,font=\itshape\fs{8.8}] at (2032,384) {(N)RAS};
\fill[fra] (1996.7,400.7) rectangle (2025.3,429.3); \node[lab,font=\fs{8.8}] at (2030.7,415) {TWT};

%%% panel d %%%
\node[font=\panelfont\fs{17}] at (1119,537) {d)};
\end{scope}
\begin{axis}[pos={1180}{843.3},width=347.65pt,height=120.5pt,
  xmin=0,xmax=695.3,ymin=0,ymax=100,
  axis x line=none,axis y line*=left,y axis line style={draw=none},
  ytick={0,25,...,100},
  /pgf/number format/assume math mode=true,
  tick align=outside,major tick length=2.2pt,tick style={black,line width=1pt},
  yticklabel style={font=\fs{8.8},inner sep=1.5pt},
  ylabel={Signature Contribution (\%)},
  ylabel style={font=\fs{11},at={(axis description cs:-0.0805,0.501)},anchor=center}]
\addplot[fill=pCG,draw=none] coordinates {(0,100)(695.3,100)} \closedcycle;
\addplot[ycomb,color=dYE,line width=0.9pt] coordinates {(9,100)(14,100)(20,100)(26,100)(31,100)(37,100)(42,100)(48,100)(56,100)(64,100)(70,100)(78,100)(85,100)(92,100)(105,100)(118,100)(126,100)(140,100)(152,100)(165,100)(178,100)(194,100)(210,100)(228,100)(246,100)(262,100)(278,100)(345,100)(352,100)(360,100)(372,100)(404,100)(412,100)(420,100)(432,100)(445,100)(455,100)(470,100)(488,100)(505,100)(525,100)(548,100)(597,100)(605,100)(613,100)(622,100)(632,100)(640,100)(648,100)(655,100)(668,100)(678,100)};
\addplot[ycomb,color=dPI,line width=0.9pt] coordinates {(17,100)(29,100)(45,100)(62,100)(90,100)(100,100)(128,100)(144,100)(172,100)(205,100)(235,100)(270,100)(348,100)(368,100)(378,100)(415,100)(440,100)(466,100)(490,100)(520,100)(555,100)(600,100)(618,100)(645,100)(665,100)(684,100)};
\addplot[ycomb,color=dBL,line width=0.9pt] coordinates {(23,100)(34,100)(52,100)(60,100)(66,100)(72,100)(76,100)(82,100)(88,100)(95,100)(110,100)(122,100)(135,100)(160,100)(185,100)(220,100)(355,100)(375,100)(425,100)(435,100)(450,100)(475,100)(510,100)(610,100)(625,100)(650,100)(660,100)(672,100)(680,100)(687,100)};
\addplot[ycomb,color=dGR,line width=0.9pt] coordinates {(12,100)(40,100)(55,100)(68,100)(74,100)(84,100)(98,100)(115,100)(130,100)(148,100)(190,100)(240,100)(350,100)(365,100)(408,100)(430,100)(460,100)(495,100)(540,100)(603,100)(620,100)(636,100)(658,100)(675,100)};
\addplot[ycomb,color=dTE,line width=0.9pt] coordinates {(19,100)(47,100)(58,100)(80,100)(103,100)(138,100)(200,100)(362,100)(418,100)(480,100)(608,100)(628,100)(642,100)(670,100)};
\addplot[ycomb,color=dLI,line width=0.9pt] coordinates {(33,100)(50,100)(75,100)(93,100)(125,100)(170,100)(370,100)(438,100)(500,100)(615,100)(652,100)};
\addplot[fill=pCG,draw=none] table[x=x,y=f]{\dataF} \closedcycle;
\addplot[ycomb,color=dYE,line width=3pt] coordinates {(3,100)(332,100)};
\addplot[ycomb,color=dGR!80!dYE,line width=1.2pt] coordinates {(1.5,75)(5,68)};
\addplot[ycomb,color=dYE,line width=0.9pt] coordinates {(16,70)(28,62)(36,58)(44,70)(603,70)(622,65)(658,80)};
\addplot[ycomb,color=dPI,line width=0.9pt] coordinates {(22,60)(612,50)(628,70)};
\addplot[ycomb,color=dGR,line width=0.9pt] coordinates {(597,60)(634,55)(616,65)};
\addplot[ycomb,color=dLI,line width=0.9pt] coordinates {(645,60)(606,55)};
\addplot[fill=pCT,draw=none] table[x=x,y=t]{\dataD} \closedcycle;
\addplot[ycomb,color=dLI!70!kCC,line width=0.8pt] coordinates {(13.7,42)(23,15)(27,10)(31,27)(34,35)(44,9)(49,15)(54,11)(72,20)(75,8)(76,15)(83,16)(99,9)(129,11)(239,9)(335,25)(339,33)(342,48)(403,32)(408,25)(409,25)(415,14)(422,8)(426,6)(602,14)(607,12)(610,25)(617,28)(623,20)(630,16)(633,20)(638,29)(642,22)(652,35)(657,30)(663,15)(683,10)};
\end{axis}

\begin{axis}[pos={1180}{878.3},width=347.65pt,height=14.65pt,
  xmin=0,xmax=695.3,ymin=0,ymax=1,hide axis]
\addplot[fill=sBR,draw=none] coordinates {(0,1)(329,1)} \closedcycle;
\addplot[fill=sNF,draw=none] coordinates {(329,1)(396.7,1)} \closedcycle;
\addplot[fill=sRA,draw=none] coordinates {(396.7,1)(589.3,1)} \closedcycle;
\addplot[fill=sTW,draw=none] coordinates {(589.3,1)(695.3,1)} \closedcycle;
\end{axis}

\begin{axis}[pos={1180}{914.3},width=347.65pt,height=14.65pt,
  xmin=0,xmax=695.3,ymin=0,ymax=1,hide axis]
\addplot[fill=hGR,draw=none] coordinates {(0,1)(695.3,1)} \closedcycle;
\addplot[ycomb,color=hRE,line width=0.6pt] coordinates {(2,1)(26,1)(28,1)(33,1)(37,1)(57,1)(72,1)(77,1)(103,1)(127,1)(131,1)(140,1)(162,1)(177,1)(182,1)(197,1)(203,1)(208,1)(233,1)(260,1)(280,1)(290,1)(302,1)(312,1)(352,1)(363,1)(382,1)(408,1)(428,1)(443,1)(467,1)(485,1)(507,1)(523,1)(540,1)(555,1)(573,1)(588,1)(607,1)(618,1)(633,1)(653,1)(657,1)(667,1)(687,1)};
\addplot[ycomb,color=hTE,line width=0.6pt] coordinates {(8,1)(12,1)(22,1)(58,1)(172,1)(227,1)(333,1)(337,1)(403,1)(492,1)(595,1)(602,1)(608,1)(613,1)(623,1)(630,1)(640,1)(647,1)};
\addplot[ycomb,color=hDK,line width=0.4pt] coordinates {(41,1)};
\end{axis}

\begin{scope}[px]
\fill[lTE] (1180.7,920.7) rectangle (1209,948.3);   \node[lab,font=\fs{9.5}] at (1217.3,935) {acral/mucosal};
\fill[lGR] (1349,920.7) rectangle (1377,948.3);     \node[lab,font=\fs{9.5}] at (1385,935) {cutaneous};
\fill[lDK] (1493.7,920.7) rectangle (1522,948.3);   \node[lab,font=\fs{9.5}] at (1528.7,935) {desmoplastic};
\fill[lRE] (1658,920.7) rectangle (1686.3,948.3);   \node[lab,font=\fs{9.5}] at (1692.3,935) {occult/no info};

\node[lab,font=\fs{9.75}] at (1893.3,607.7) {Signatures};
\fill[kCG] (1892.3,624.3) rectangle (1920.7,652);   \node[lab,font=\fs{7.8}] at (1932,631.7) {Signature 1};  \node[font=\fs{7.8},inner sep=0pt] at (1976,647) {(Aging)};
\fill[kCC] (1892.3,655.3) rectangle (1920.7,683);   \node[lab,font=\fs{7.8}] at (1932,661) {Signature 3};    \node[font=\fs{7.8},inner sep=0pt] at (1972.7,676.3) {(HRD)};
\fill[kAG] (1892.3,686.3) rectangle (1920.7,714);   \node[lab,font=\fs{7.8}] at (1932,691.7) {Signature 5};  \node[font=\fs{7.8},inner sep=0pt] at (1977.7,708) {(Unknown)};
\fill[kCA] (1892.3,717.3) rectangle (1920.7,745.3); \node[lab,font=\fs{7.8}] at (1932,722.7) {Signature 6};  \node[font=\fs{7.8},inner sep=0pt] at (1975,739.3) {(MMR)};
\fill[kCT] (1892.3,749) rectangle (1920.7,776.7);   \node[lab,font=\fs{7.8}] at (1932,756.3) {Signature 7};  \node[font=\fs{7.8},inner sep=0pt] at (1974,771.7) {(UV)};
\fill[kAT] (1892.3,780) rectangle (1920.7,807.7);   \node[lab,font=\fs{7.8}] at (1932,785.7) {Signature 11}; \node[font=\fs{7.8},inner sep=0pt] at (1982,801.7) {(Alkylating)};
\fill[kAC] (1892.3,811) rectangle (1920.7,838.7);   \node[lab,font=\fs{7.8}] at (1932,816.7) {Signature 19}; \node[font=\fs{7.8},inner sep=0pt] at (1977.7,832) {(Unknown)};
\fill[kOT] (1892.3,842) rectangle (1920.7,870);     \node[lab,font=\fs{7.8}] at (1932,847.7) {Signature 23}; \node[font=\fs{7.8},inner sep=0pt] at (1977.7,863.3) {(Unknown)};
\end{scope}
\end{tikzpicture}
\end{document}
